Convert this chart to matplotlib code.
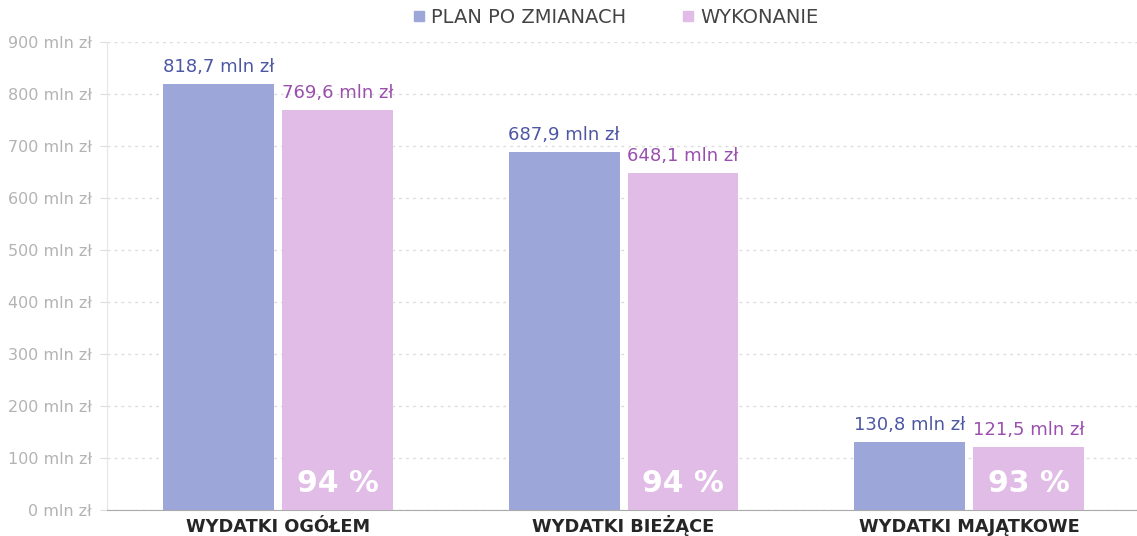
import numpy as np
from matplotlib import pyplot as plt
from matplotlib.lines import Line2D

# Data
categories = ["WYDATKI OGÓŁEM", "WYDATKI BIEŻĄCE", "WYDATKI MAJĄTKOWE"]
plan = [818.7, 687.9, 130.8]
wykonanie = [769.6, 648.1, 121.5]
percent = ["94 %", "94 %", "93 %"]
yticks = [0, 100, 200, 300, 400, 500, 600, 700, 800, 900]

blue = '#9da6d8'
pink = '#e0bce6'
blue_txt = '#4d57a3'
pink_txt = '#9a4fae'

plt.rcParams['font.family'] = ['DejaVu Sans']

fig = plt.figure(figsize=(11.37, 5.36), dpi=100)
ax = fig.add_axes([107 / 1137, 26 / 536, 1 - 107 / 1137, 468 / 536])

x = np.arange(len(categories))
w = 0.321
off = 0.172
ax.bar(x - off, plan, width=w, color=blue, zorder=3)
ax.bar(x + off, wykonanie, width=w, color=pink, zorder=3)

# value labels above bars, percentage inside the pink bars
for i in range(len(categories)):
    ax.text(x[i] - off, plan[i] + 23, f"{plan[i]:.1f} mln zł".replace('.', ','),
            ha='center', va='baseline', color=blue_txt, fontsize=13)
    ax.text(x[i] + off, wykonanie[i] + 23, f"{wykonanie[i]:.1f} mln zł".replace('.', ','),
            ha='center', va='baseline', color=pink_txt, fontsize=13)
    ax.text(x[i] + off, 35, percent[i], ha='center', va='baseline',
            color='white', fontsize=21.5, fontweight='bold', zorder=4)

ax.set_xlim(-0.495, 2.486)
ax.set_ylim(0, 900)
ax.set_yticks(yticks)
ax.set_yticklabels([f"{v} mln zł" for v in yticks], color='#b3b3b3', fontsize=11.5)
ax.set_xticks(x)
ax.set_xticklabels(categories, fontweight='bold', fontsize=12.8, color='#262626',
                   va='baseline')
ax.tick_params(axis='x', length=0, pad=15.5)
ax.tick_params(axis='y', length=5, color='#dddddd', pad=6)

ax.grid(axis='y', linestyle=(0, (2, 3)), color='#dddddd', linewidth=1, zorder=0)
for s in ['top', 'right']:
    ax.spines[s].set_visible(False)
ax.spines['left'].set_color('#e6e6e6')
ax.spines['bottom'].set_color('#aaaaaa')

handles = [Line2D([], [], marker='s', linestyle='', color=blue, markersize=7.2),
           Line2D([], [], marker='s', linestyle='', color=pink, markersize=7.2)]
fig.legend(handles, ["PLAN PO ZMIANACH", "WYKONANIE"], loc='center',
           bbox_to_anchor=(0.541, 0.968), ncol=2, frameon=False, fontsize=14,
           handlelength=0.7, handletextpad=0.3, columnspacing=2.8,
           labelcolor='#444444')

plt.savefig('out.png', dpi=100)
